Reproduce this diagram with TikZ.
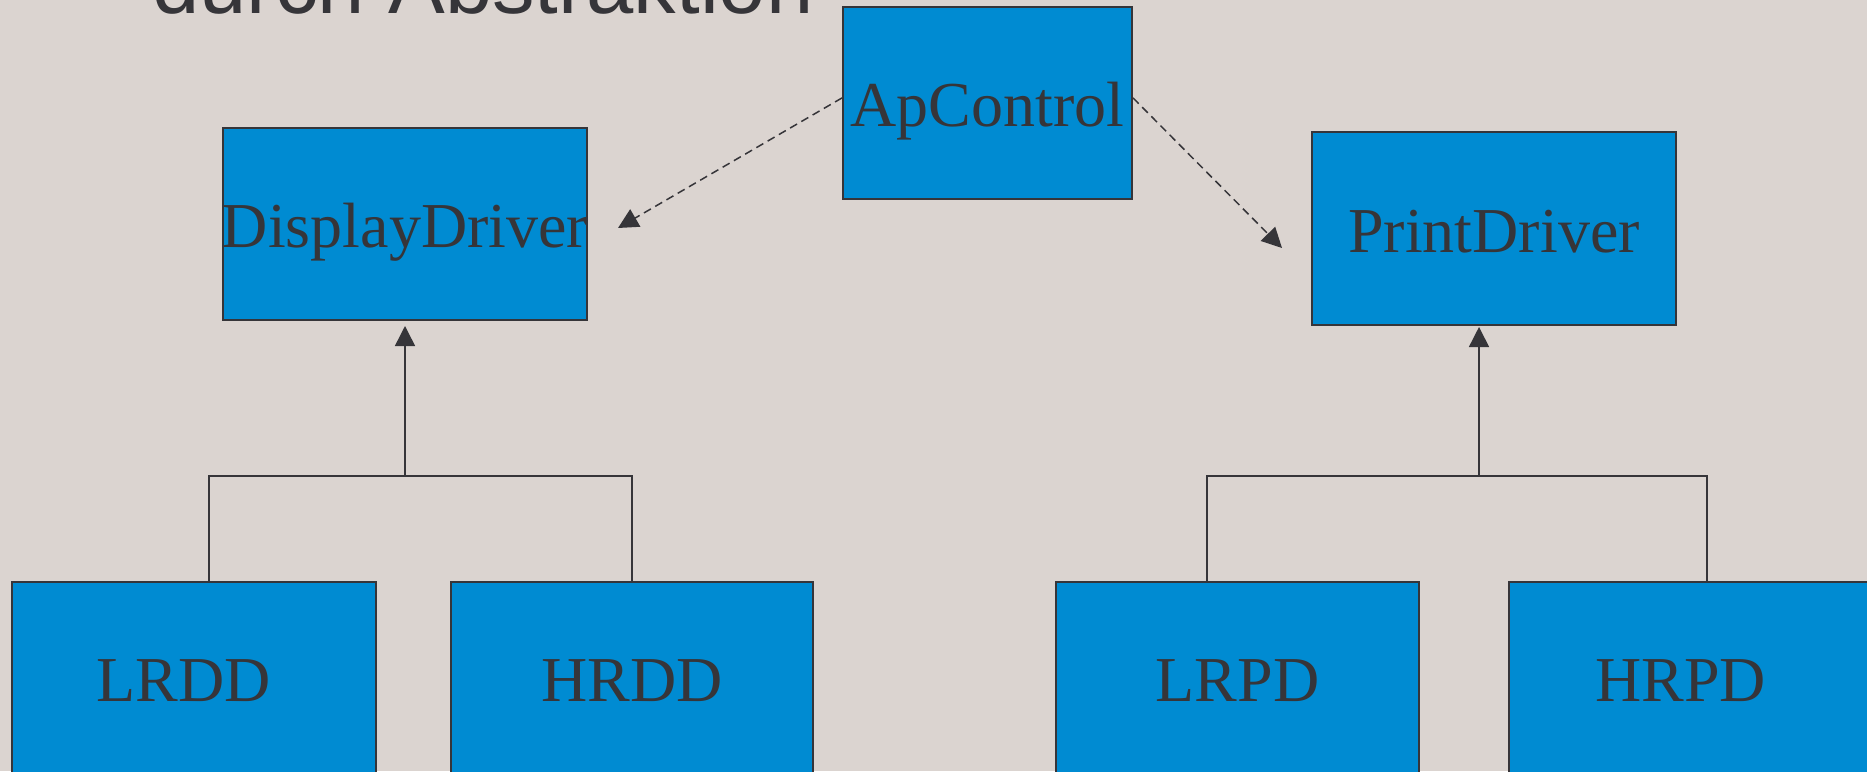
\documentclass[tikz,border=0pt]{standalone}
\usepackage{fontspec}
\setmainfont{Liberation Serif}
\newfontfamily\titlefont{Liberation Sans}
\usetikzlibrary{arrows.meta}
\definecolor{bgc}{RGB}{219,212,208}
\definecolor{boxc}{RGB}{0,139,210}
\definecolor{inkc}{RGB}{54,53,57}
\newcommand{\boxtxt}[1]{\makebox[0pt]{#1}}
\begin{document}
\begin{tikzpicture}[x=1pt,y=-1pt,
  cls/.style={draw=inkc, line width=2pt, fill=boxc, text=inkc, inner sep=0pt,
    minimum width=364pt, minimum height=192pt, text height=47pt, text depth=0pt,
    font=\fontsize{64}{64}\selectfont},
  conn/.style={draw=inkc, line width=1.5pt},
  arr/.style={-{Triangle[length=20pt,width=20pt]}},
  dep/.style={conn, dash pattern=on 8pt off 5pt}]
\useasboundingbox (0,0) rectangle (1867,771);
\fill[bgc] (0,0) rectangle (1867,771);
\clip (0,0) rectangle (1867,771);

\node[anchor=base west, inner sep=0pt, text=inkc, font=\titlefont\fontsize{85}{85}\selectfont] (title) at (152,13.5) {durch Abstraktion};

\node[cls, minimum width=289pt] (ap) at (987.5,103) {\boxtxt{ApControl}};
\node[cls] (dd) at (405,224) {\boxtxt{DisplayDriver}};
\node[cls, minimum height=193pt] (pd) at (1494,228.5) {\boxtxt{PrintDriver}};
\node[cls] (lrdd) at (194,678) {\boxtxt{LRDD\kern21pt}};
\node[cls, minimum width=362pt] (hrdd) at (632,678) {\boxtxt{HRDD}};
\node[cls, minimum width=363pt] (lrpd) at (1237.5,678) {\boxtxt{LRPD}};
\node[cls] (hrpd) at (1691,678) {\boxtxt{HRPD\kern21pt}};

\coordinate (ddl) at (209,476);
\coordinate (ddr) at (632,476);
\coordinate (ddj) at (405,476);
\coordinate (pdl) at (1207,476);
\coordinate (pdr) at (1707,476);
\coordinate (pdj) at (1479,476);
\coordinate (ddtip) at (618,228);
\coordinate (pdtip) at (1282,248);

\draw[conn] (lrdd.north -| ddl) -- (ddl) -- (ddr) -- (hrdd.north -| ddr);
\draw[conn, arr, shorten >=5pt] (ddj) -- (dd.south);
\draw[conn] (lrpd.north -| pdl) -- (pdl) -- (pdr) -- (hrpd.north -| pdr);
\draw[conn, arr, shorten >=1pt] (pdj) -- (pdj |- pd.south);

\draw[dep, arr] (ap.178) -- (ddtip);
\draw[dep, arr] (ap.2) -- (pdtip);
\end{tikzpicture}
\end{document}
